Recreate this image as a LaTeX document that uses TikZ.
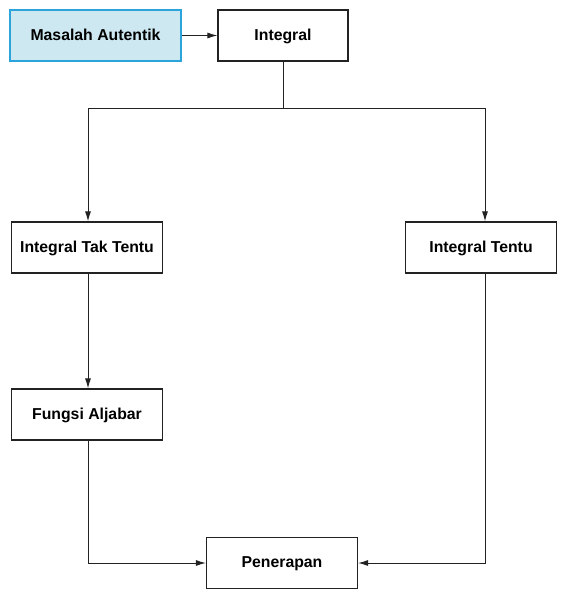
\documentclass[tikz,border=0pt]{standalone}
\usepackage{fontspec}
\setmainfont{Liberation Sans}
\usepackage{xcolor}
\usepackage{tikz}
\usetikzlibrary{arrows.meta}
\definecolor{bleuclair}{HTML}{CDE8F1}
\definecolor{bleubord}{HTML}{2BA3DB}
\definecolor{trait}{HTML}{222222}

\begin{document}
\begin{tikzpicture}[x=1pt, y=-1pt,
    boite/.style={draw=trait, line width=1.1pt, fill=white, minimum width=151pt,
        minimum height=51pt, inner sep=0pt, text depth=2pt,
        font=\fontsize{15.8}{18}\selectfont\bfseries},
    fleche/.style={draw=trait, line width=1pt, -{Latex[length=10pt,width=6pt]}}]
    % Cadre de la figure
    \useasboundingbox (0,0) rectangle (569,600);

    % Boites
    \node[boite, draw=bleubord, fill=bleuclair, minimum width=171pt] (masalah) at (95.5,35.5) {Masalah Autentik};
    \node[boite, minimum width=130pt] (integral) at (283,35.5) {Integral};
    \node[boite] (taktentu) at (87,247.5) {Integral Tak Tentu};
    \node[boite] (tentu) at (481,247.5) {Integral Tentu};
    \node[boite] (aljabar) at (87,414.5) {Fungsi Aljabar};
    \node[boite] (penerapan) at (282,563) {Penerapan};

    % Point de separation
    \coordinate (split) at (283,108);

    % Fleches
    \draw[fleche] (masalah) -- (integral);
    \draw[draw=trait, line width=1pt] (integral.south) -- (split);
    \draw[fleche] (split) -| ([xshift=1pt]taktentu.north);
    \draw[fleche] (split) -| ([xshift=4pt]tentu.north);
    \draw[fleche] ([xshift=1pt]taktentu.south) -- ([xshift=1pt]aljabar.north);
    \draw[fleche] ([xshift=1pt]aljabar.south) |- (penerapan.west);
    \draw[fleche] ([xshift=4pt]tentu.south) |- (penerapan.east);
\end{tikzpicture}
\end{document}
